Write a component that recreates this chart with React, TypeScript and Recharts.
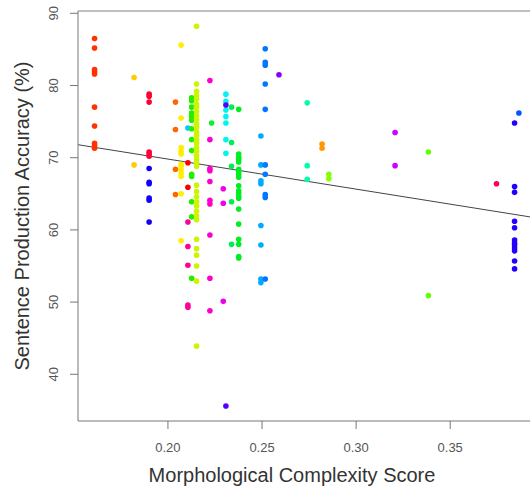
import { ScatterChart, Scatter, XAxis, YAxis, ReferenceLine, Label } from "recharts";

// x position of each group (complexity score)
const groupX = [
  0.161, 0.182, 0.19, 0.19, 0.204, 0.207, 0.2106, 0.2106, 0.2106, 0.2126,
  0.2152, 0.2223, 0.2232, 0.2308, 0.2308, 0.2294, 0.2338, 0.2376, 0.2494, 0.2517,
  0.259, 0.274, 0.2819, 0.2855, 0.3207, 0.3384, 0.3746, 0.3842, 0.3865,
];

// accuracy values per group
const groupY = [
  [86.5, 85.2, 82.2, 81.9, 81.6, 77.0, 74.4, 72.0, 71.7, 71.3],
  [81.1, 69.0],
  [78.8, 78.5, 77.7, 70.8, 70.5, 70.2],
  [68.5, 66.6, 66.4, 64.4, 64.1, 61.1],
  [77.7, 73.9, 68.4, 64.9],
  [85.6, 75.5, 71.4, 70.9, 70.5, 69.1, 68.8, 68.3, 67.8, 67.4, 65.0, 58.5],
  [69.3, 65.9],
  [74.1],
  [61.1, 57.7, 55.1, 49.6, 49.3],
  [78.3, 77.9, 77.0, 76.2, 75.7, 75.2, 74.0, 72.5, 71.0, 67.7, 67.4, 63.9, 61.8, 53.3],
  [
    88.2, 80.2, 79.2, 78.6, 78.1, 77.4, 77.0, 76.4, 75.8, 75.3, 74.7, 74.2, 73.6,
    73.1, 72.5, 72.0, 71.4, 70.9, 70.3, 69.8, 69.3, 68.8, 66.2, 65.3, 64.6, 63.9,
    63.3, 62.6, 62.0, 61.4, 58.7, 57.4, 56.5, 55.0, 52.9, 43.9,
  ],
  [80.7, 72.5, 68.5, 68.2, 66.7, 64.1, 63.6, 59.3, 53.3, 48.8],
  [74.8],
  [78.8, 77.8, 76.6, 75.7, 74.8, 72.5, 70.6],
  [77.3, 35.6],
  [65.7, 63.7, 50.1],
  [77.0, 72.1, 68.8, 63.9, 58.0],
  [
    76.7, 70.5, 70.1, 69.8, 69.4, 68.4, 68.1, 67.7, 67.3, 66.1, 65.4, 65.1, 64.7,
    64.4, 62.9, 60.8, 58.7, 58.0, 56.3, 56.1,
  ],
  [73.0, 69.0, 66.8, 66.4, 60.6, 57.9, 53.2, 52.7],
  [85.1, 83.2, 82.8, 80.2, 76.7, 69.0, 67.7, 64.9, 64.5, 53.2],
  [81.5],
  [77.6, 68.9, 67.0],
  [71.9, 71.3],
  [67.7, 67.1],
  [73.5, 68.9],
  [70.8, 50.9],
  [66.4],
  [74.8, 66.0, 65.2, 61.2, 60.3, 58.6, 58.2, 57.9, 57.5, 57.1, 55.7, 54.6],
  [76.2],
];

const groupColors = [
  "#FF3300", "#FFCC00", "#FF0033", "#1100FF", "#FF6600", "#FFEE00", "#FF0000", "#00CCFF",
  "#FF0099", "#22EE00", "#CCF500", "#FF00CC", "#11EE33", "#00F5EE", "#5500FF", "#EE00EE",
  "#00EE55", "#00EE22", "#00AAFF", "#0077FF", "#8800FF", "#00FFAA", "#FF9900", "#88FF00",
  "#CC00FF", "#66FF00", "#FF0055", "#2200FF", "#0055FF",
];

const xTicks = [0.2, 0.25, 0.3, 0.35];
const yTicks = [40, 50, 60, 70, 80, 90];
const xDomain = [0.1522, 0.3924];
const yDomain = [33.53, 90.32];

// fitted regression line ends
const fitX = [0.1522, 0.3924];
const fitY = [71.8, 61.8];

const font = "'Liberation Sans', Arial, sans-serif";

const XTick = (props: any) => (
  <text x={props.x} y={props.y + 21} textAnchor="middle" fill="#555" fontSize={13} fontFamily={font}>
    {props.payload.value.toFixed(2)}
  </text>
);

const YTick = (props: any) => (
  <text
    x={props.x - 10}
    y={props.y}
    textAnchor="middle"
    fill="#555"
    fontSize={13}
    fontFamily={font}
    transform={`rotate(-90 ${props.x - 10} ${props.y})`}
  >
    {props.payload.value}
  </text>
);

export default function App() {
  const groups = groupY.map((ys, i) => ys.map((y) => ({ x: groupX[i], y })));
  return (
    <div style={{ position: "absolute", left: 0, top: 0, background: "#fff" }}>
      <ScatterChart width={530} height={486} margin={{ top: 11, right: 0, bottom: 0, left: 0 }}>
        <XAxis
          type="number"
          dataKey="x"
          domain={xDomain}
          ticks={xTicks}
          allowDataOverflow
          height={65}
          tickSize={8}
          axisLine={{ stroke: "#777" }}
          tickLine={{ stroke: "#777" }}
          tick={XTick}
        >
          <Label
            value="Morphological Complexity Score"
            position="insideBottom"
            offset={4}
            dx={-12}
            fill="#333"
            fontSize={20}
            fontFamily={font}
          />
        </XAxis>
        <YAxis
          type="number"
          dataKey="y"
          domain={yDomain}
          ticks={yTicks}
          allowDataOverflow
          width={78}
          tickSize={8}
          axisLine={{ stroke: "#777" }}
          tickLine={{ stroke: "#777" }}
          tick={YTick}
        >
          <Label
            value="Sentence Production Accuracy (%)"
            angle={-90}
            position="center"
            dx={-17}
            fill="#333"
            fontSize={20}
            fontFamily={font}
          />
        </YAxis>
        <ReferenceLine y={yDomain[1]} stroke="#aaa" strokeWidth={1.5} />
        {groups.map((data, i) => (
          <Scatter
            key={i}
            data={data}
            isAnimationActive={false}
            shape={(p: any) => <circle cx={p.cx} cy={p.cy} r={2.8} fill={groupColors[i]} />}
          />
        ))}
        <ReferenceLine
          segment={[
            { x: fitX[0], y: fitY[0] },
            { x: fitX[1], y: fitY[1] },
          ]}
          stroke="#444"
          strokeWidth={1}
        />
      </ScatterChart>
    </div>
  );
}
